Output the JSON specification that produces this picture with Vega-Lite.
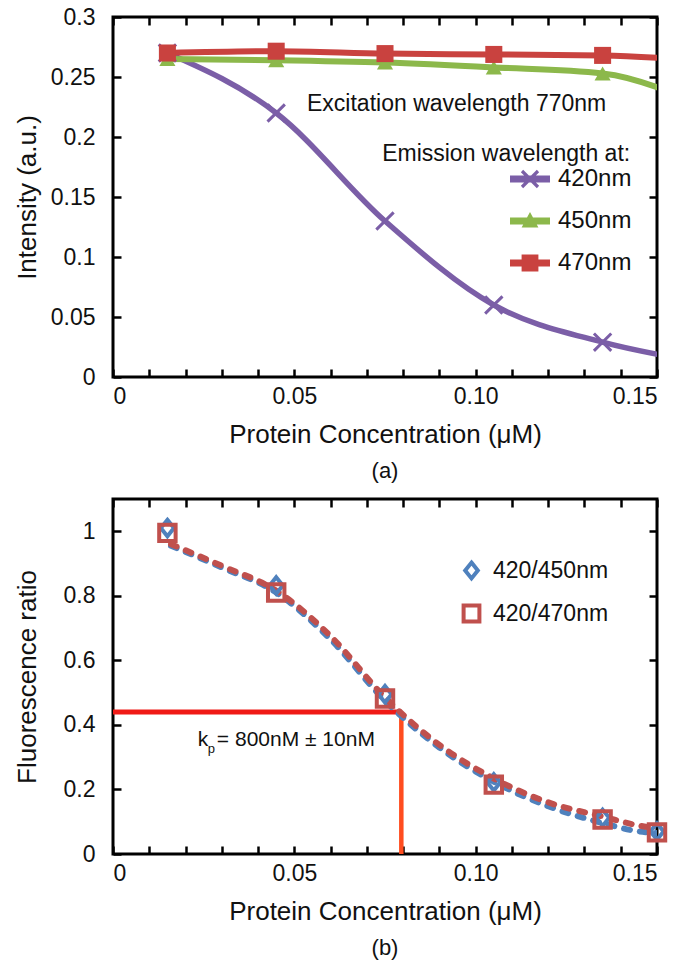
{
  "$schema": "https://vega.github.io/schema/vega-lite/v6.json",
  "padding": {"left": 12, "top": 4, "right": 5, "bottom": 5},
  "background": "white",
  "spacing": 12,
  "resolve": {
    "scale": {"x": "independent", "y": "independent", "color": "independent", "shape": "independent"},
    "legend": {"color": "independent", "shape": "independent"}
  },
  "config": {
    "font": "Liberation Sans",
    "view": {"stroke": "black", "strokeWidth": 3},
    "axis": {"domain": false, "grid": false, "tickSize": -8, "tickWidth": 2.5, "tickColor": "black", "labelFontSize": 23, "labelColor": "#111", "titleFontSize": 26, "titleFontWeight": "normal", "titleColor": "#111", "labelFont": "Liberation Sans", "titleFont": "Liberation Sans"},
    "legend": {"labelFont": "Liberation Sans", "labelColor": "#111"},
    "title": {"font": "Liberation Sans", "fontWeight": "normal", "color": "#111"}
  },
  "datasets": {
    "top": [
      {"series": "420nm", "conc": 0.015, "intensity": 0.27},
      {"series": "420nm", "conc": 0.045, "intensity": 0.22},
      {"series": "420nm", "conc": 0.075, "intensity": 0.13},
      {"series": "420nm", "conc": 0.105, "intensity": 0.06},
      {"series": "420nm", "conc": 0.135, "intensity": 0.029},
      {"series": "420nm", "conc": 0.165, "intensity": 0.011},
      {"series": "450nm", "conc": 0.015, "intensity": 0.265},
      {"series": "450nm", "conc": 0.045, "intensity": 0.264},
      {"series": "450nm", "conc": 0.075, "intensity": 0.262},
      {"series": "450nm", "conc": 0.105, "intensity": 0.258},
      {"series": "450nm", "conc": 0.135, "intensity": 0.253},
      {"series": "450nm", "conc": 0.165, "intensity": 0.222},
      {"series": "470nm", "conc": 0.015, "intensity": 0.27},
      {"series": "470nm", "conc": 0.045, "intensity": 0.2715},
      {"series": "470nm", "conc": 0.075, "intensity": 0.2695},
      {"series": "470nm", "conc": 0.105, "intensity": 0.2688},
      {"series": "470nm", "conc": 0.135, "intensity": 0.268},
      {"series": "470nm", "conc": 0.165, "intensity": 0.263}
    ],
    "ratio": [
      {"series": "420/450nm", "conc": 0.015, "ratio": 1.01},
      {"series": "420/450nm", "conc": 0.045, "ratio": 0.832},
      {"series": "420/450nm", "conc": 0.075, "ratio": 0.495},
      {"series": "420/450nm", "conc": 0.105, "ratio": 0.222},
      {"series": "420/450nm", "conc": 0.135, "ratio": 0.112},
      {"series": "420/450nm", "conc": 0.15, "ratio": 0.07},
      {"series": "420/470nm", "conc": 0.015, "ratio": 0.995},
      {"series": "420/470nm", "conc": 0.045, "ratio": 0.81},
      {"series": "420/470nm", "conc": 0.075, "ratio": 0.482},
      {"series": "420/470nm", "conc": 0.105, "ratio": 0.215},
      {"series": "420/470nm", "conc": 0.135, "ratio": 0.107},
      {"series": "420/470nm", "conc": 0.15, "ratio": 0.067}
    ],
    "fit": [
      {"series": "420/450nm", "conc": 0.016, "ratio": 0.955},
      {"series": "420/450nm", "conc": 0.03, "ratio": 0.888},
      {"series": "420/450nm", "conc": 0.045, "ratio": 0.81},
      {"series": "420/450nm", "conc": 0.06, "ratio": 0.665},
      {"series": "420/450nm", "conc": 0.075, "ratio": 0.475},
      {"series": "420/450nm", "conc": 0.09, "ratio": 0.33},
      {"series": "420/450nm", "conc": 0.105, "ratio": 0.224},
      {"series": "420/450nm", "conc": 0.12, "ratio": 0.148},
      {"series": "420/450nm", "conc": 0.135, "ratio": 0.096},
      {"series": "420/450nm", "conc": 0.145, "ratio": 0.07},
      {"series": "420/450nm", "conc": 0.15, "ratio": 0.065},
      {"series": "420/470nm", "conc": 0.016, "ratio": 0.96},
      {"series": "420/470nm", "conc": 0.03, "ratio": 0.893},
      {"series": "420/470nm", "conc": 0.045, "ratio": 0.816},
      {"series": "420/470nm", "conc": 0.06, "ratio": 0.675},
      {"series": "420/470nm", "conc": 0.075, "ratio": 0.485},
      {"series": "420/470nm", "conc": 0.09, "ratio": 0.338},
      {"series": "420/470nm", "conc": 0.105, "ratio": 0.234},
      {"series": "420/470nm", "conc": 0.12, "ratio": 0.16},
      {"series": "420/470nm", "conc": 0.135, "ratio": 0.116},
      {"series": "420/470nm", "conc": 0.145, "ratio": 0.088},
      {"series": "420/470nm", "conc": 0.15, "ratio": 0.079}
    ]
  },
  "vconcat": [
    {
      "width": 544,
      "height": 360,
      "title": {"text": "(a)", "orient": "bottom", "anchor": "middle", "frame": "group", "fontSize": 22, "offset": 14},
      "resolve": {"axis": {"x": "independent", "y": "independent"}},
      "layer": [
        {
          "data": {"name": "top"},
          "transform": [{"filter": "datum.series === '420nm'"}],
          "mark": {"type": "line", "interpolate": "monotone", "strokeWidth": 5.5, "color": "#7B5EA7", "clip": true},
          "encoding": {
            "x": {"field": "conc", "type": "quantitative", "scale": {"domain": [0, 0.15], "nice": false},
              "axis": {"orient": "bottom", "values": [0,0.01,0.02,0.03,0.04,0.05,0.06,0.07,0.08,0.09,0.1,0.11,0.12,0.13,0.14,0.15], "labelExpr": "round(datum.value*100) % 5 == 0 ? (datum.value == 0 ? '0' : format(datum.value, '.2f')) : ''", "labelPadding": 16, "title": "Protein Concentration (μM)", "titleY": 57, "titleBaseline": "middle"}},
            "y": {"field": "intensity", "type": "quantitative", "scale": {"domain": [0, 0.3], "nice": false},
              "axis": {"orient": "left", "values": [0,0.05,0.1,0.15,0.2,0.25,0.3], "format": ".2~f", "labelPadding": 26, "title": "Intensity (a.u.)", "titleX": -86, "titleBaseline": "middle"}}
          }
        },
        {
          "data": {"name": "top"},
          "transform": [{"filter": "datum.series === '450nm'"}],
          "mark": {"type": "line", "interpolate": "monotone", "strokeWidth": 6, "color": "#8CB84B", "clip": true},
          "encoding": {
            "x": {"field": "conc", "type": "quantitative", "scale": {"domain": [0, 0.15], "nice": false}, "axis": null},
            "y": {"field": "intensity", "type": "quantitative", "scale": {"domain": [0, 0.3], "nice": false}, "axis": null}
          }
        },
        {
          "data": {"name": "top"},
          "transform": [{"filter": "datum.series === '470nm'"}],
          "mark": {"type": "line", "interpolate": "monotone", "strokeWidth": 6, "color": "#C9423F", "clip": true},
          "encoding": {
            "x": {"field": "conc", "type": "quantitative", "scale": {"domain": [0, 0.15], "nice": false}, "axis": null},
            "y": {"field": "intensity", "type": "quantitative", "scale": {"domain": [0, 0.3], "nice": false}, "axis": null}
          }
        },
        {
          "data": {"name": "top"},
          "transform": [{"filter": "datum.series === '420nm'"}],
          "mark": {"type": "point", "shape": "M-1,-1L1,1M-1,1L1,-1", "filled": false, "stroke": "#7B5EA7", "strokeWidth": 3, "size": 300, "opacity": 1, "clip": true},
          "encoding": {
            "x": {"field": "conc", "type": "quantitative", "scale": {"domain": [0, 0.15], "nice": false}, "axis": null},
            "y": {"field": "intensity", "type": "quantitative", "scale": {"domain": [0, 0.3], "nice": false}, "axis": null}
          }
        },
        {
          "data": {"name": "top"},
          "transform": [{"filter": "datum.series === '450nm'"}],
          "mark": {"type": "point", "shape": "triangle-up", "filled": true, "fill": "#8CB84B", "size": 260, "opacity": 1, "clip": true},
          "encoding": {
            "x": {"field": "conc", "type": "quantitative", "scale": {"domain": [0, 0.15], "nice": false}, "axis": null},
            "y": {"field": "intensity", "type": "quantitative", "scale": {"domain": [0, 0.3], "nice": false}, "axis": null}
          }
        },
        {
          "data": {"name": "top"},
          "transform": [{"filter": "datum.series === '470nm'"}],
          "mark": {"type": "point", "shape": "square", "filled": true, "fill": "#C9423F", "size": 290, "opacity": 1, "clip": true},
          "encoding": {
            "x": {"field": "conc", "type": "quantitative", "scale": {"domain": [0, 0.15], "nice": false}, "axis": null},
            "y": {"field": "intensity", "type": "quantitative", "scale": {"domain": [0, 0.3], "nice": false}, "axis": null}
          }
        },
        {
          "data": {"name": "top"},
          "mark": {"type": "point", "filled": true, "opacity": 0, "clip": true},
          "encoding": {
            "x": {"field": "conc", "type": "quantitative", "scale": {"domain": [0, 0.15], "nice": false}, "axis": null},
            "y": {"field": "intensity", "type": "quantitative", "scale": {"domain": [0, 0.3], "nice": false}, "axis": null},
            "color": {"field": "series", "type": "nominal",
              "scale": {"domain": ["420nm", "450nm", "470nm"], "range": ["#7B5EA7", "#8CB84B", "#C9423F"]},
              "legend": {"orient": "none", "legendX": 397, "legendY": 142, "title": null, "symbolSize": 1600, "labelFontSize": 24, "labelOffset": 8, "rowPadding": 10, "symbolOpacity": 1, "symbolStrokeWidth": 0}},
            "shape": {"field": "series", "type": "nominal",
              "scale": {"domain": ["420nm", "450nm", "470nm"], "range": [
                "M-1,-0.17H1V0.17H-1Z M-0.343,-0.457L0.457,0.343L0.343,0.457L-0.457,-0.343Z M-0.457,0.343L0.343,-0.457L0.457,-0.343L-0.343,0.457Z",
                "M-1,-0.17H1V0.17H-1Z M-0.42,0.32L0,-0.45L0.42,0.32Z",
                "M-1,-0.17H1V0.17H-1Z M-0.42,-0.42H0.42V0.42H-0.42Z"]},
              "legend": {"orient": "none", "legendX": 397, "legendY": 142, "title": null, "symbolSize": 1600, "labelFontSize": 24, "labelOffset": 8, "rowPadding": 10, "symbolOpacity": 1, "symbolStrokeWidth": 0}}
          }
        },
        {
          "data": {"values": [{}]},
          "mark": {"type": "text", "align": "left", "baseline": "middle", "fontSize": 23, "color": "#111"},
          "encoding": {
            "x": {"datum": 0.0535, "type": "quantitative", "scale": {"domain": [0, 0.15], "nice": false},
              "axis": {"orient": "top", "values": [0,0.01,0.02,0.03,0.04,0.05,0.06,0.07,0.08,0.09,0.1,0.11,0.12,0.13,0.14,0.15], "labels": false, "title": null}},
            "y": {"datum": 0.2275, "type": "quantitative", "scale": {"domain": [0, 0.3], "nice": false},
              "axis": {"orient": "right", "values": [0,0.05,0.1,0.15,0.2,0.25,0.3], "labels": false, "title": null}},
            "text": {"value": "Excitation wavelength 770nm"}
          }
        },
        {
          "data": {"values": [{}]},
          "mark": {"type": "text", "align": "right", "baseline": "middle", "fontSize": 23, "color": "#111"},
          "encoding": {
            "x": {"datum": 0.1426, "type": "quantitative", "scale": {"domain": [0, 0.15], "nice": false}, "axis": null},
            "y": {"datum": 0.1855, "type": "quantitative", "scale": {"domain": [0, 0.3], "nice": false}, "axis": null},
            "text": {"value": "Emission wavelength at:"}
          }
        }
      ]
    },
    {
      "width": 544,
      "height": 355,
      "title": {"text": "(b)", "orient": "bottom", "anchor": "middle", "frame": "group", "fontSize": 22, "offset": 14},
      "resolve": {"axis": {"x": "independent", "y": "independent"}},
      "layer": [
        {
          "data": {"values": [{}]},
          "mark": {"type": "rule", "color": "#F01A16", "strokeWidth": 5},
          "encoding": {
            "x": {"datum": 0, "type": "quantitative", "scale": {"domain": [0, 0.15], "nice": false},
              "axis": {"orient": "bottom", "values": [0,0.01,0.02,0.03,0.04,0.05,0.06,0.07,0.08,0.09,0.1,0.11,0.12,0.13,0.14,0.15], "labelExpr": "round(datum.value*100) % 5 == 0 ? (datum.value == 0 ? '0' : format(datum.value, '.2f')) : ''", "labelPadding": 16, "title": "Protein Concentration (μM)", "titleY": 57, "titleBaseline": "middle"}},
            "x2": {"datum": 0.0795},
            "y": {"datum": 0.44, "type": "quantitative", "scale": {"domain": [0, 1.1], "nice": false},
              "axis": {"orient": "left", "values": [0,0.2,0.4,0.6,0.8,1], "format": ".1~f", "labelPadding": 26, "title": "Fluorescence ratio", "titleX": -86, "titleBaseline": "middle"}}
          }
        },
        {
          "data": {"values": [{}]},
          "mark": {"type": "rule", "color": "#FF4D1F", "strokeWidth": 4.5},
          "encoding": {
            "x": {"datum": 0.0795, "type": "quantitative", "scale": {"domain": [0, 0.15], "nice": false}, "axis": null},
            "y": {"datum": 0, "type": "quantitative", "scale": {"domain": [0, 1.1], "nice": false}, "axis": null},
            "y2": {"datum": 0.44}
          }
        },
        {
          "data": {"name": "fit"},
          "transform": [{"filter": "datum.series === '420/450nm'"}],
          "mark": {"type": "line", "interpolate": "monotone", "strokeWidth": 6, "strokeDash": [6, 10], "strokeCap": "round", "color": "#4F81BD", "clip": true},
          "encoding": {
            "x": {"field": "conc", "type": "quantitative", "scale": {"domain": [0, 0.15], "nice": false}, "axis": null},
            "y": {"field": "ratio", "type": "quantitative", "scale": {"domain": [0, 1.1], "nice": false}, "axis": null}
          }
        },
        {
          "data": {"name": "fit"},
          "transform": [{"filter": "datum.series === '420/470nm'"}],
          "mark": {"type": "line", "interpolate": "monotone", "strokeWidth": 6, "strokeDash": [6, 10], "strokeCap": "round", "color": "#C0504D", "clip": true},
          "encoding": {
            "x": {"field": "conc", "type": "quantitative", "scale": {"domain": [0, 0.15], "nice": false}, "axis": null},
            "y": {"field": "ratio", "type": "quantitative", "scale": {"domain": [0, 1.1], "nice": false}, "axis": null}
          }
        },
        {
          "data": {"name": "ratio"},
          "mark": {"type": "point", "filled": false, "strokeWidth": 4, "size": 270, "opacity": 1},
          "encoding": {
            "x": {"field": "conc", "type": "quantitative", "scale": {"domain": [0, 0.15], "nice": false}, "axis": null},
            "y": {"field": "ratio", "type": "quantitative", "scale": {"domain": [0, 1.1], "nice": false}, "axis": null},
            "color": {"field": "series", "type": "nominal",
              "scale": {"domain": ["420/450nm", "420/470nm"], "range": ["#4F81BD", "#C0504D"]},
              "legend": {"orient": "none", "legendX": 347, "legendY": 60, "title": null, "labelFontSize": 23, "labelOffset": 10, "rowPadding": 10, "symbolSize": 250, "symbolStrokeWidth": 4}},
            "shape": {"field": "series", "type": "nominal",
              "scale": {"domain": ["420/450nm", "420/470nm"], "range": ["M0,-1L0.8,0L0,1L-0.8,0Z", "square"]},
              "legend": {"orient": "none", "legendX": 347, "legendY": 60, "title": null, "labelFontSize": 23, "labelOffset": 10, "rowPadding": 10, "symbolSize": 250, "symbolStrokeWidth": 4}}
          }
        },
        {
          "data": {"values": [{}]},
          "mark": {"type": "text", "align": "left", "baseline": "middle", "fontSize": 21, "color": "#111"},
          "encoding": {
            "x": {"datum": 0.0234, "type": "quantitative", "scale": {"domain": [0, 0.15], "nice": false},
              "axis": {"orient": "top", "values": [0,0.01,0.02,0.03,0.04,0.05,0.06,0.07,0.08,0.09,0.1,0.11,0.12,0.13,0.14,0.15], "labels": false, "title": null}},
            "y": {"datum": 0.353, "type": "quantitative", "scale": {"domain": [0, 1.1], "nice": false},
              "axis": {"orient": "right", "values": [0,0.2,0.4,0.6,0.8,1], "labels": false, "title": null}},
            "text": {"value": "k"}
          }
        },
        {
          "data": {"values": [{}]},
          "mark": {"type": "text", "align": "left", "baseline": "middle", "fontSize": 13, "dx": 10, "dy": 9, "color": "#111"},
          "encoding": {
            "x": {"datum": 0.0234, "type": "quantitative", "scale": {"domain": [0, 0.15], "nice": false}, "axis": null},
            "y": {"datum": 0.353, "type": "quantitative", "scale": {"domain": [0, 1.1], "nice": false}, "axis": null},
            "text": {"value": "p"}
          }
        },
        {
          "data": {"values": [{}]},
          "mark": {"type": "text", "align": "left", "baseline": "middle", "fontSize": 21, "dx": 19, "color": "#111"},
          "encoding": {
            "x": {"datum": 0.0234, "type": "quantitative", "scale": {"domain": [0, 0.15], "nice": false}, "axis": null},
            "y": {"datum": 0.353, "type": "quantitative", "scale": {"domain": [0, 1.1], "nice": false}, "axis": null},
            "text": {"value": "= 800nM ± 10nM"}
          }
        }
      ]
    }
  ]
}
